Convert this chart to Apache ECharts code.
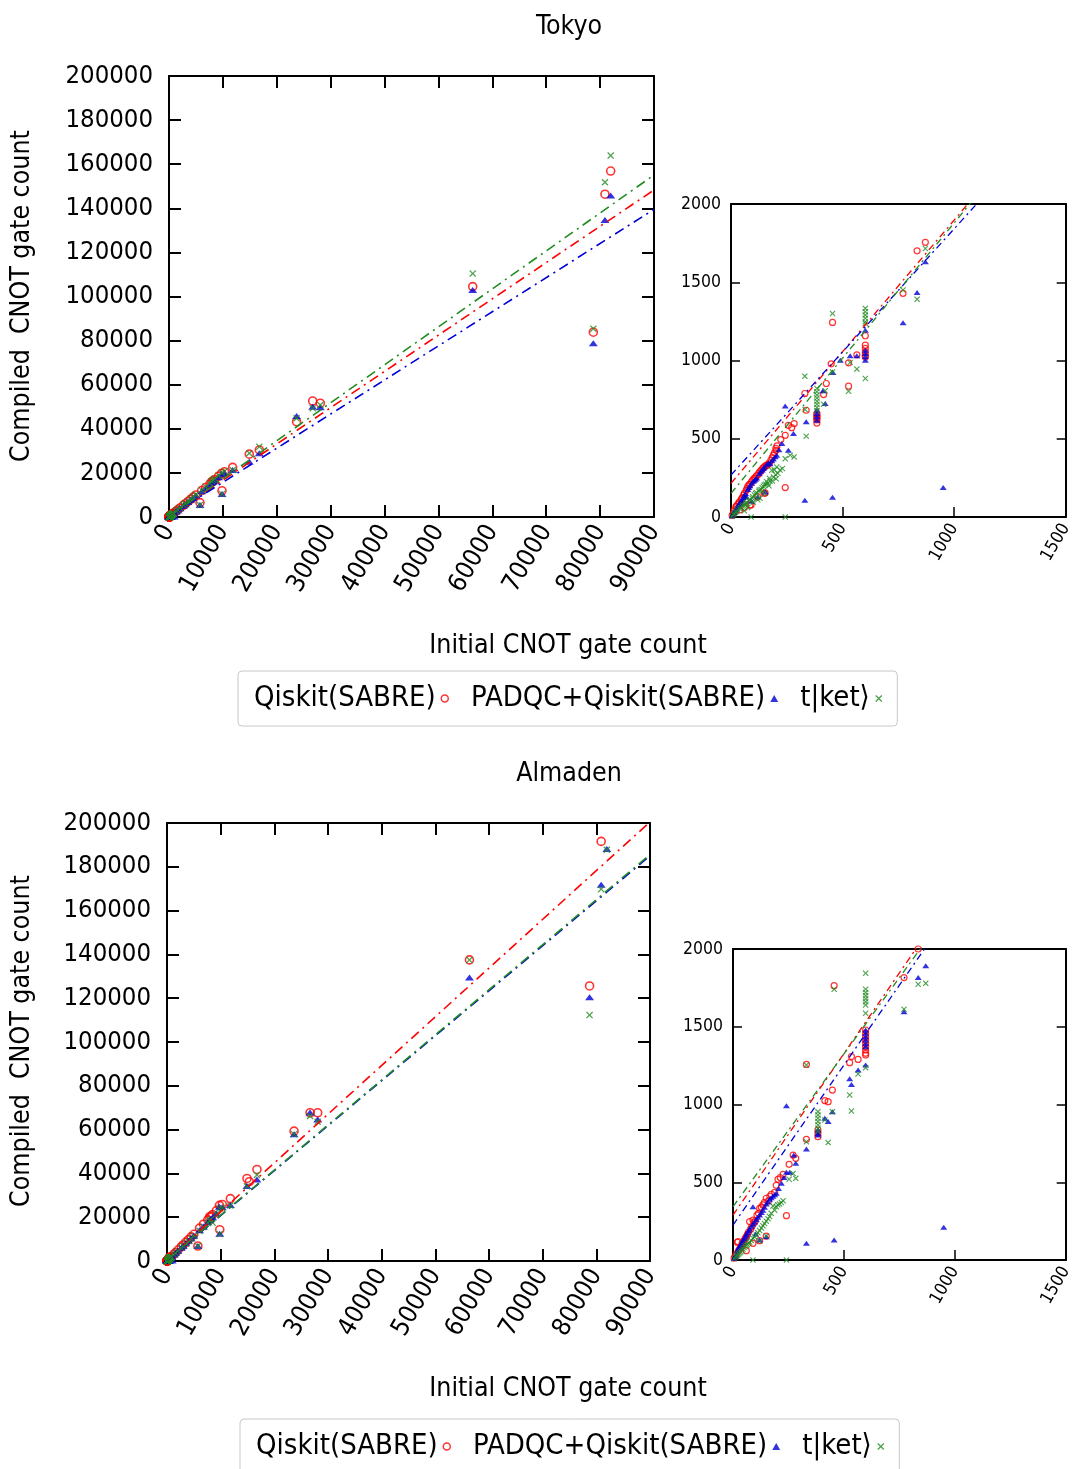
<!DOCTYPE html>
<html><head><meta charset="utf-8">
<script src="https://cdn.jsdelivr.net/npm/echarts@6/dist/echarts.min.js"></script>
<style>html,body{margin:0;padding:0;background:#fff}#c{width:1075px;height:1469px}</style>
</head><body><div id="c"></div>
<script>
// ---------------- DATA ----------------
const seriesNames = ['Qiskit(SABRE)', 'PADQC+Qiskit(SABRE)', 't|ket\u27E9'];
const panelTitles = ['Tokyo', 'Almaden'];
const xAxisName = 'Initial CNOT gate count';
const yAxisName = 'Compiled  CNOT gate count';
const mainXTicks = [0, 10000, 20000, 30000, 40000, 50000, 60000, 70000, 80000, 90000];
const mainYTicks = [0, 20000, 40000, 60000, 80000, 100000, 120000, 140000, 160000, 180000, 200000];
const insetXTicks = [0, 500, 1000, 1500];
const insetYTicks = [0, 500, 1000, 1500, 2000];

// Tokyo: [initial, compiled]
const tokyoQiskit = [
[5,10],[10,22],[15,35],[15,45],[22,66],[25,70],[30,80],[35,90],[38,95],[40,45],[45,109],[48,118],[52,125],[57,140],[60,60],[60,151],[68,170],[72,182],[75,194],[80,205],[85,75],[85,210],[90,77],[92,225],[97,236],[103,245],[108,250],[113,262],[119,130],[119,268],[125,280],[130,290],[136,300],[142,311],[147,318],[150,151],[153,154],[153,325],[158,330],[164,332],[168,340],[172,345],[179,364],[185,380],[190,395],[195,410],[201,439],[202,426],[206,454],[223,495],[243,188],[243,522],[257,586],[272,571],[283,597],[331,789],[337,682],[385,661],[385,650],[385,640],[385,630],[385,620],[385,600],[415,782],[427,853],[449,979],[455,1243],[527,985],[527,836],[564,1036],[602,1158],[602,1098],[602,1078],[602,1055],[602,1035],[602,1023],[771,1429],[834,1701],[871,1755],
[1300,2600],[1600,3200],[2040,4100],[2660,5300],[3000,6000],[3500,7000],[4000,8000],[4500,9000],[5000,10000],[5750,6500],[6060,12000],[6800,13400],[7600,15000],[7920,16000],[8200,16400],[8500,17000],[9200,18500],[9770,19800],[9830,11900],[10300,20500],[11810,22500],[14900,28500],[16760,30400],[23680,43200],[26660,52600],[28080,51600],[56360,104500],[78740,83800],[80900,146400],[81960,156900]
];
const tokyoPadqc = [
[5,8],[10,20],[14,30],[18,40],[22,50],[25,55],[30,68],[35,80],[40,90],[45,100],[50,112],[55,125],[60,138],[65,150],[70,128],[75,175],[80,188],[85,200],[93,100],[93,215],[100,228],[105,235],[110,242],[115,250],[120,130],[127,277],[133,290],[140,300],[145,310],[150,320],[153,160],[160,335],[168,345],[175,341],[183,360],[190,370],[198,385],[205,394],[215,430],[228,469],[243,710],[257,426],[280,533],[331,107],[337,608],[385,682],[385,661],[385,640],[385,618],[412,806],[422,725],[455,126],[457,923],[490,1002],[534,1030],[564,1030],[602,1194],[602,1066],[602,1045],[602,1025],[602,1002],[771,1241],[834,1435],[871,1631],[951,188],
[1300,2500],[1600,3100],[2040,3950],[2660,5150],[3000,5800],[3500,6800],[4000,7800],[4500,8750],[5000,9700],[5750,5400],[6060,11700],[6800,13000],[7600,14600],[7920,15500],[8200,16000],[8500,16600],[9200,18000],[9770,19500],[9830,10400],[10300,20000],[11810,21300],[14900,25100],[16760,28900],[23680,45800],[26660,50000],[28080,49800],[56360,103000],[78740,78800],[80900,134700],[81960,145800]
];
const tokyoTket = [
[5,5],[12,15],[15,20],[20,30],[25,35],[30,45],[37,55],[45,60],[50,70],[55,75],[60,40],[65,80],[67,87],[70,95],[75,60],[80,105],[85,110],[90,0],[95,120],[97,130],[100,95],[105,140],[110,150],[115,155],[120,110],[125,165],[127,172],[130,120],[135,175],[140,185],[145,195],[149,204],[150,150],[155,210],[160,225],[165,215],[170,200],[172,247],[175,230],[183,299],[185,230],[190,255],[194,300],[200,270],[202,245],[205,320],[210,280],[220,300],[230,310],[243,373],[243,0],[265,394],[283,384],[331,900],[332,687],[337,516],[385,821],[385,800],[385,780],[385,760],[385,740],[385,720],[385,700],[385,680],[415,720],[422,806],[455,927],[455,1300],[527,804],[534,987],[564,945],[602,885],[602,1333],[602,1311],[602,1290],[602,1270],[602,1248],[602,1237],[771,1450],[834,1392],[871,1716],
[1300,2650],[1600,3300],[2040,4200],[2660,5400],[3000,6100],[3500,7100],[4000,8200],[4500,9200],[5000,10200],[5750,5450],[6060,12200],[6800,13700],[7600,15300],[7920,16300],[8200,16800],[8500,17400],[9200,18800],[9770,20000],[9830,10400],[10300,20700],[11810,21300],[14900,28900],[16760,31900],[23680,44800],[26660,49300],[28080,50800],[56360,110400],[78740,85400],[80900,151800],[81960,163900]
];

// Almaden: [initial, compiled]
const almadenQiskit = [
[5,12],[10,25],[15,40],[19,114],[23,118],[25,60],[30,70],[35,85],[40,100],[45,112],[50,125],[55,140],[60,60],[60,150],[65,165],[70,180],[75,247],[80,200],[85,215],[90,107],[90,257],[95,240],[100,250],[108,289],[115,300],[120,124],[120,332],[128,340],[135,354],[142,370],[150,154],[150,397],[160,380],[166,410],[173,422],[188,435],[195,480],[203,519],[213,530],[226,551],[241,285],[253,615],[271,675],[283,654],[331,1258],[331,776],[383,836],[383,815],[383,793],[414,1025],[429,1018],[448,1093],[456,1764],[526,1269],[534,1308],[564,1290],[598,1479],[598,1457],[598,1436],[598,1413],[598,1393],[598,1372],[598,1350],[598,1329],[598,1318],[771,1816],[835,2000],
[1300,3100],[1600,3900],[2040,5000],[2660,6500],[3000,7300],[3500,8600],[4000,9800],[4500,11000],[5000,12200],[5750,6850],[6060,15000],[6800,16800],[7600,18800],[7920,20100],[8200,20500],[8500,21200],[9200,23000],[9770,25400],[9830,14300],[10300,25800],[11810,28500],[14900,37700],[15340,36200],[16760,41800],[23680,59300],[26660,67700],[28080,67700],[56360,137500],[78740,125600],[80900,191600]
];
const almadenPadqc = [
[5,10],[10,22],[15,35],[19,60],[25,75],[30,88],[35,100],[40,112],[45,125],[50,138],[55,150],[60,162],[65,175],[70,188],[75,200],[82,215],[90,343],[90,230],[97,245],[102,167],[105,260],[112,275],[120,129],[120,290],[128,305],[135,320],[142,340],[150,150],[150,360],[158,375],[165,390],[172,400],[180,410],[188,420],[195,429],[205,460],[218,493],[230,530],[241,564],[241,992],[256,564],[274,675],[283,622],[331,107],[331,714],[383,836],[383,815],[383,804],[414,911],[429,890],[448,954],[456,129],[526,1166],[534,1128],[564,1222],[598,1479],[598,1458],[598,1436],[598,1415],[598,1393],[598,1372],[598,1254],[771,1597],[835,1816],[869,1893],[950,210],
[1300,2950],[1600,3650],[2040,4700],[2660,6100],[3000,6900],[3500,8100],[4000,9200],[4500,10400],[5000,11500],[5750,6850],[6060,14000],[6800,15800],[7600,17700],[7920,18700],[8200,19300],[8500,20000],[9200,21700],[9770,24800],[9830,12500],[10300,24500],[11810,25600],[14900,34200],[16760,37200],[23680,57900],[26660,67800],[28080,64600],[56360,129400],[78740,120400],[80900,171800],[81960,188100]
];
const almadenTket = [
[5,8],[12,18],[16,25],[20,30],[25,38],[30,45],[35,52],[40,60],[45,70],[50,80],[55,88],[60,95],[65,100],[70,108],[75,115],[82,125],[90,0],[90,140],[97,150],[105,160],[112,175],[120,124],[120,190],[128,205],[135,220],[142,235],[150,154],[150,250],[158,265],[165,280],[172,300],[180,347],[188,320],[195,343],[202,355],[210,360],[218,370],[226,381],[241,0],[253,519],[271,557],[283,525],[331,1254],[331,761],[383,954],[383,932],[383,911],[383,890],[383,868],[383,847],[383,826],[414,900],[429,755],[448,954],[456,1741],[526,1061],[534,958],[564,1196],[598,1844],[598,1741],[598,1720],[598,1700],[598,1680],[598,1660],[598,1640],[598,1587],[598,1237],[771,1612],[835,1773],[869,1779],
[1300,2900],[1600,3600],[2040,4600],[2660,6000],[3000,6800],[3500,8000],[4000,9100],[4500,10300],[5000,11400],[5750,6850],[6060,13800],[6800,15500],[7600,17400],[7920,18500],[8200,19000],[8500,17500],[9200,21400],[9770,24000],[9830,12300],[10300,24200],[11810,25300],[14900,34100],[16760,39300],[23680,57900],[26660,66200],[28080,63600],[56360,137500],[78740,112300],[80900,169800],[81960,187800]
];

// fitted lines: [initial, compiled] end points
const tokyoMainFitQiskit = [[0,215],[90000,148300]];
const tokyoMainFitPadqc  = [[0,268],[90000,139500]];
const tokyoMainFitTket   = [[0,151],[90000,155100]];
const tokyoInsetFitQiskit = [[0,215],[1500,2738]];
const tokyoInsetFitPadqc  = [[0,268],[1500,2628]];
const tokyoInsetFitTket   = [[0,151],[1500,2743]];
const almadenMainFitQiskit = [[0,289],[90000,200500]];
const almadenMainFitPadqc  = [[0,225],[90000,185000]];
const almadenMainFitTket   = [[0,343],[90000,185600]];
const almadenInsetFitQiskit = [[0,289],[1500,3403]];
const almadenInsetFitPadqc  = [[0,225],[1500,3310]];
const almadenInsetFitTket   = [[0,343],[1500,3288]];

// ---------------- STYLE / LAYOUT ----------------
const FONT = 'DejaVu Sans Condensed';
const RED = '#ff0000', BLUE = '#0000d8', GREEN = '#228b22';
const XPATH = 'path://M0,1.3L1.3,0L5,3.7L8.7,0L10,1.3L6.3,5L10,8.7L8.7,10L5,6.3L1.3,10L0,8.7L3.7,5Z';
const grids = [
  {left:169, top:76, width:485, height:441},
  {left:731, top:204, width:335, height:313},
  {left:167, top:823, width:483, height:438},
  {left:733, top:949, width:333, height:311}
];
const panels = [
  {grid:0, inset:false, data:[tokyoQiskit,tokyoPadqc,tokyoTket], fits:[tokyoMainFitQiskit,tokyoMainFitPadqc,tokyoMainFitTket]},
  {grid:1, inset:true, data:[tokyoQiskit,tokyoPadqc,tokyoTket], fits:[tokyoInsetFitQiskit,tokyoInsetFitPadqc,tokyoInsetFitTket]},
  {grid:2, inset:false, data:[almadenQiskit,almadenPadqc,almadenTket], fits:[almadenMainFitQiskit,almadenMainFitPadqc,almadenMainFitTket]},
  {grid:3, inset:true, data:[almadenQiskit,almadenPadqc,almadenTket], fits:[almadenInsetFitQiskit,almadenInsetFitPadqc,almadenInsetFitTket]}
];

const xAxes = [], yAxes = [], series = [];
function rangeOf(t){ return {min:t[0], max:t[t.length-1], interval:t[1]-t[0]}; }
panels.forEach(p => {
  const g = p.grid, inset = p.inset;
  const xt = rangeOf(inset ? insetXTicks : mainXTicks);
  const yt = rangeOf(inset ? insetYTicks : mainYTicks);
  const tickLen = inset ? 10 : 12;
  const tickW = inset ? 1.5 : 2;
  const fs = inset ? 17.5 : 25.5;
  const line = {show:true, onZero:false, lineStyle:{color:'#000', width:2}};
  const lab = {show:true, color:'#000', fontFamily:FONT, fontSize:fs, showMinLabel:true, showMaxLabel:true, formatter:v=>String(v)};
  xAxes.push(Object.assign({gridIndex:g, type:'value', position:'bottom', axisLine:line,
    axisTick:{show:true, inside:true, length:tickLen, lineStyle:{color:'#000', width:tickW}},
    axisLabel:Object.assign({}, lab, {rotate:60, margin: inset ? 8 : 10}), splitLine:{show:false}}, xt));
  xAxes.push(Object.assign({gridIndex:g, type:'value', position:'top', axisLine:line,
    axisTick:{show:!inset, inside:true, length:tickLen, lineStyle:{color:'#000', width:tickW}},
    axisLabel:{show:false}, splitLine:{show:false}}, xt));
  yAxes.push(Object.assign({gridIndex:g, type:'value', position:'left', axisLine:line,
    axisTick:{show:true, inside:true, length:inset?9:tickLen, lineStyle:{color:'#000', width:tickW}},
    axisLabel:Object.assign({}, lab, {margin: inset ? 10 : 16}), splitLine:{show:false}}, yt));
  yAxes.push(Object.assign({gridIndex:g, type:'value', position:'right', axisLine:line,
    axisTick:{show:true, inside:true, length:inset?9:tickLen, lineStyle:{color:'#000', width:tickW}},
    axisLabel:{show:false}, splitLine:{show:false}}, yt));
  const xi = 2*g, yi = 2*g;
  const styles = [
    {symbol:'circle', symbolSize: inset?6:8, itemStyle:{color:'rgba(0,0,0,0)', borderColor:RED, borderWidth: inset?1.2:1.6}},
    {symbol:'triangle', symbolSize: inset?[7,5]:[9,6], itemStyle:{color:BLUE}},
    {symbol:XPATH, symbolSize: inset?6:7, itemStyle:{color:GREEN}}
  ];
  const colors = [RED, BLUE, GREEN];
  p.data.forEach((d, k) => {
    series.push(Object.assign({type:'scatter', name:seriesNames[k], xAxisIndex:xi, yAxisIndex:yi, data:d, clip:true, z:2}, styles[k]));
  });
  p.fits.forEach((d, k) => {
    series.push({type:'line', name:'fit '+seriesNames[k], xAxisIndex:xi, yAxisIndex:yi, data:d, clip:true, z:3,
      symbol:'none', showSymbol:false, silent:true,
      lineStyle:{color:colors[k], width: inset?1.3:1.6, type: inset?[7,4,2,4]:[10,5,2,5]}});
  });
});

function legendAt(left, top){
  return {left:left, top:top, orient:'horizontal', align:'right', itemGap:22, itemWidth:8, itemHeight:7,
    padding:[13,15,13,16], borderColor:'#c8c8c8', borderWidth:1, borderRadius:4, backgroundColor:'#fff',
    textStyle:{fontFamily:FONT, fontSize:29, color:'#000'},
    selectedMode:false,
    data:[
      {name:seriesNames[0], icon:'circle', itemStyle:{color:'rgba(0,0,0,0)', borderColor:RED, borderWidth:1.5}},
      {name:seriesNames[1], icon:'triangle', itemStyle:{color:BLUE}},
      {name:seriesNames[2], icon:XPATH, itemStyle:{color:GREEN}}
    ]};
}

const txt = (x, y, s, rot) => ({type:'text', x:x, y:y, rotation:rot||0,
  style:{text:s, font:'26.5px "'+FONT+'"', fill:'#000', textAlign:'center', textVerticalAlign:'middle'}});

const option = {
  animation:false,
  backgroundColor:'#fff',
  title: [
    {text:panelTitles[0], left:569, top:14, textAlign:'center', padding:0, textStyle:{fontFamily:FONT, fontSize:26.5, fontWeight:'normal', color:'#000'}},
    {text:panelTitles[1], left:569, top:761, textAlign:'center', padding:0, textStyle:{fontFamily:FONT, fontSize:26.5, fontWeight:'normal', color:'#000'}}
  ],
  legend:[legendAt(238, 671), legendAt(240, 1419)],
  grid: grids.map(r => Object.assign({containLabel:false}, r)),
  xAxis: xAxes, yAxis: yAxes, series: series,
  graphic: [
    txt(568, 646, xAxisName), txt(568, 1389, xAxisName),
    txt(22, 296, yAxisName, Math.PI/2), txt(22, 1041, yAxisName, Math.PI/2)
  ]
};
const chart = echarts.init(document.getElementById('c'), null, {renderer:'canvas'});
chart.setOption(option);
</script></body></html>
